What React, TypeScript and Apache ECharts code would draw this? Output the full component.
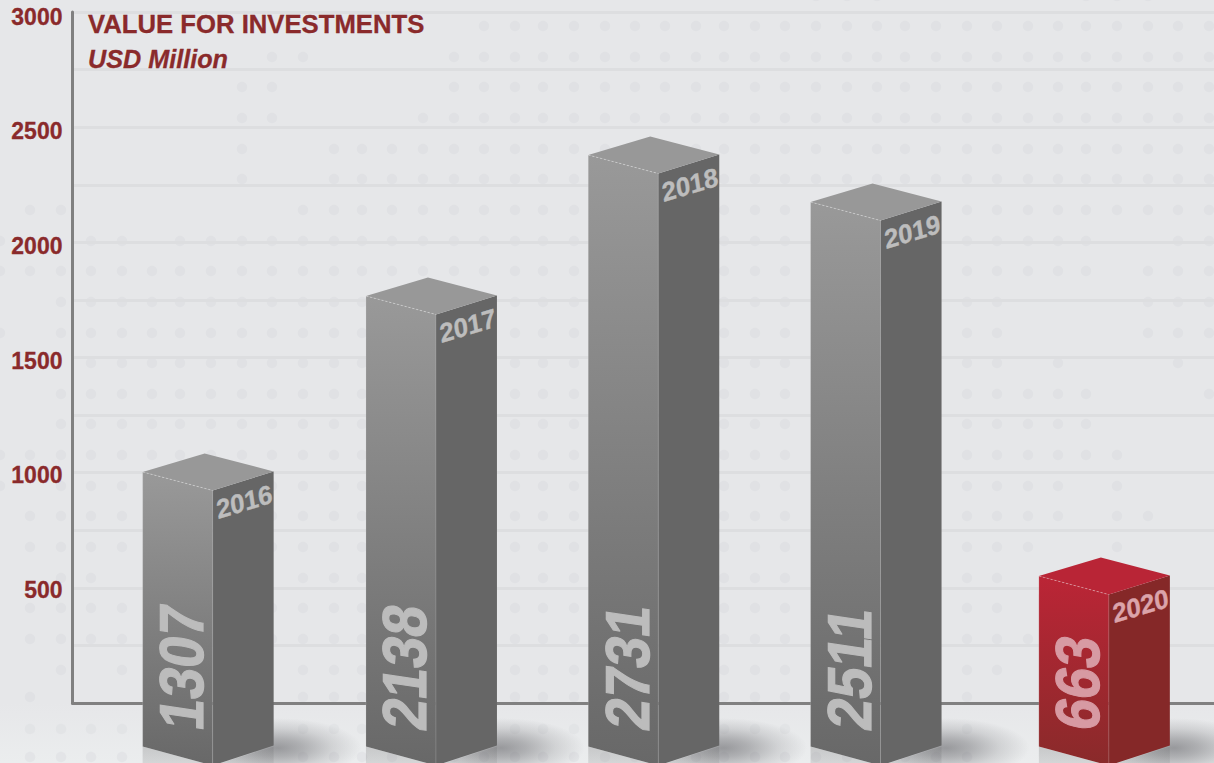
import React, { useEffect, useRef } from "react";
import * as echarts from "echarts";

const years = ["2016", "2017", "2018", "2019", "2020"];
const printedValues = ["1307", "2138", "2731", "2511", "663"];
// Bar heights at each bar's front-left top corner
const barHeights = [1003, 1767, 2379, 2175, 551];
const yTicks = [0, 500, 1000, 1500, 2000, 2500, 3000];

// Background dot screen: column and row positions, and the runs of columns shown on each row
const dotCols = [0, 30, 61, 91, 122, 152, 180, 211, 242, 272, 303, 334, 362, 392, 423, 454, 484, 515, 543, 574, 605, 635, 665, 696, 724, 755, 785, 816, 847, 877, 905, 936, 967, 997, 1028, 1058, 1086, 1117, 1148, 1178, 1209];
const dotRows = [-4, 26, 57, 87, 118, 149, 179, 210, 241, 271, 302, 333, 363, 394, 424, 455, 486, 516, 547, 578, 608, 639, 670, 697, 729, 757];
const dotRuns = [
  [[27, 29], [36, 38]],
  [[16, 40]],
  [[9, 10], [15, 40]],
  [[8, 9], [15, 40]],
  [[8, 9], [14, 40]],
  [[8, 8], [11, 40]],
  [[8, 8], [11, 40]],
  [[1, 2], [10, 40]],
  [[0, 0], [3, 4], [6, 36], [39, 40]],
  [[0, 36], [38, 40]],
  [[2, 33], [38, 40]],
  [[0, 0], [2, 33], [38, 40]],
  [[3, 33], [35, 35], [39, 39]],
  [[2, 36], [40, 40]],
  [[2, 36]],
  [[0, 37]],
  [[0, 0], [2, 35], [37, 37]],
  [[1, 35], [37, 38]],
  [[1, 34], [37, 37]],
  [[2, 3], [10, 33]],
  [[1, 33]],
  [[1, 34]],
  [[2, 2], [4, 4], [10, 33]],
  [[1, 1], [10, 32]],
  [[1, 4], [10, 32]],
  [[1, 4], [10, 32]],
];

const barShift = [21.5, 16.5, 10.5, 4.5, 4.5];
const FONT = '"Liberation Sans", Arial, sans-serif';
const MAROON = "#8a2a2b";

// Text under a general linear map: columns u (along the text) and v (down the glyphs).
function shearedText(x: number, y: number, u: number[], v: number[], style: any) {
  const [a, c] = u;
  const [b, d] = v;
  const E = (a + d) / 2, F = (a - d) / 2, G = (c + b) / 2, H = (c - b) / 2;
  const Q = Math.hypot(E, H), R = Math.hypot(F, G);
  const a1 = Math.atan2(G, F), a2 = Math.atan2(H, E);
  const theta = (a2 - a1) / 2, phi = (a2 + a1) / 2;
  return {
    type: "group",
    x,
    y,
    rotation: -phi,
    scaleX: Q + R,
    scaleY: Q - R,
    children: [
      {
        type: "text",
        rotation: -theta,
        style: { fontFamily: FONT, fontWeight: "bold", textAlign: "left", textVerticalAlign: "middle", ...style },
      },
    ],
  };
}

const poly = (points: number[][], style: any) => ({ type: "polygon", shape: { points }, style });
const vGrad = (c0: string, c1: string) => ({
  type: "linear", x: 0, y: 0, x2: 0, y2: 1,
  colorStops: [{ offset: 0, color: c0 }, { offset: 1, color: c1 }],
});

function renderBar(params: any, api: any) {
  const i = params.dataIndex;
  const p = api.coord([api.value(0), api.value(1)]);
  const red = i === years.length - 1;
  const L = p[0] - 65.5 + barShift[i];
  const T = p[1];
  const baseL = 746.5;
  const M = L + 70, Rt = L + 131;
  const front = red ? vGrad("#bb2536", "#892a2a") : vGrad("#999999", "#686868");
  const side = red ? "#852828" : "#666666";
  const top = red ? "#b92536" : "#989898";
  const edge = "rgba(255,255,255,0.2)";
  const numFill = red ? "#d79aa3" : "#bcbcbc";
  const yearFill = red ? "#dba3aa" : "#bdbdbd";
  return {
    type: "group",
    children: [
      {
        type: "ellipse",
        shape: { cx: Rt + 4, cy: 748, rx: 84, ry: 30 },
        style: {
          fill: {
            type: "radial", x: 0.5, y: 0.5, r: 0.5,
            colorStops: [
              { offset: 0, color: "rgba(70,70,75,0.5)" },
              { offset: 0.3, color: "rgba(70,70,75,0.36)" },
              { offset: 0.65, color: "rgba(70,70,75,0.15)" },
              { offset: 1, color: "rgba(70,70,75,0)" },
            ],
          },
        },
      },
      poly([[L, baseL], [M, baseL + 19], [M, baseL + 49], [L, baseL + 30]], { fill: vGrad("rgba(90,90,90,0.24)", "rgba(90,90,90,0)") }),
      poly([[M, baseL + 19], [Rt, baseL], [Rt, baseL + 30], [M, baseL + 49]], { fill: vGrad("rgba(90,90,90,0.18)", "rgba(90,90,90,0)") }),
      poly([[L, T], [M, T + 18.5], [M, baseL + 19], [L, baseL]], { fill: front }),
      poly([[M, T + 18.5], [Rt, T - 0.5], [Rt, baseL - 1], [M, baseL + 19]], { fill: side }),
      poly([[L, T], [L + 62, T - 18.5], [Rt, T - 0.5], [M, T + 18.5]], { fill: top }),
      { type: "line", shape: { x1: L, y1: T, x2: M, y2: T + 18.5 }, style: { stroke: "rgba(255,255,255,0.5)", lineWidth: 0.7, lineDash: [2, 2] } },
      { type: "line", shape: { x1: M, y1: T + 18.5, x2: M, y2: baseL + 19 }, style: { stroke: edge, lineWidth: 0.7 } },
      { type: "line", shape: { x1: L, y1: T, x2: L, y2: baseL }, style: { stroke: edge, lineWidth: 0.7 } },
      shearedText(L + 39, 729, [0, -0.9], [1, 0.15], { text: printedValues[i], fontSize: 62, fill: numFill, stroke: numFill, lineWidth: 1.2 }),
      shearedText(M + 4, T + 18 + 20, [0.96, -0.285], [0.15, 1], { text: years[i], fontSize: 26, fill: yearFill, stroke: yearFill, lineWidth: 0.4 }),
    ],
  };
}

function backgroundGraphics() {
  const els: any[] = [
    {
      type: "rect",
      z: -20,
      shape: { x: 0, y: 703, width: 1214, height: 60 },
      style: { fill: vGrad("#e6e7e9", "#ebedee") },
    },
  ];
  dotRuns.forEach((runs, r) => {
    runs.forEach(([from, to]) => {
      for (let c = from; c <= to; c++) {
        els.push({
          type: "ellipse",
          z: -10,
          silent: true,
          shape: { cx: dotCols[c], cy: dotRows[r], rx: 5.2, ry: 5.2 },
          style: { fill: "#e0e1e4", opacity: r >= 24 ? 0.7 : 1 },
        });
      }
    });
  });
  return els;
}

const tickStyle = (pad: number) => ({
  color: MAROON,
  fontFamily: FONT,
  fontWeight: "bold",
  fontSize: 23,
  textBorderColor: MAROON,
  textBorderWidth: 0.3,
  padding: [pad, 0, 0, 0],
});

export default function App() {
  const ref = useRef<HTMLDivElement>(null);
  useEffect(() => {
    document.body.style.margin = "0";
    document.body.style.overflow = "hidden";
    const chart = echarts.init(ref.current!, null, { renderer: "svg" });
    chart.setOption({
      animation: false,
      backgroundColor: "#e6e7e9",
      title: {
        text: "VALUE FOR INVESTMENTS",
        subtext: "USD Million",
        left: 88,
        top: 10,
        itemGap: 7,
        padding: 0,
        textStyle: { color: MAROON, fontFamily: FONT, fontWeight: "bold", fontSize: 25.7, lineHeight: 28, textBorderColor: MAROON, textBorderWidth: 0.3 },
        subtextStyle: { color: MAROON, fontFamily: FONT, fontWeight: "bold", fontStyle: "italic", fontSize: 25.2, lineHeight: 28, textBorderColor: MAROON, textBorderWidth: 0.3 },
      },
      graphic: backgroundGraphics(),
      grid: { left: 72.5, right: 0, top: 12, bottom: 60 },
      xAxis: {
        type: "category",
        data: years,
        axisLine: { show: true, lineStyle: { color: "#808080", width: 3 } },
        axisTick: { show: false },
        axisLabel: { show: false },
        splitLine: { show: false },
      },
      yAxis: {
        type: "value",
        min: 0,
        max: 3000,
        interval: 500,
        axisLine: { show: true, lineStyle: { color: "#808080", width: 3 } },
        axisTick: { show: false },
        minorTick: { show: false, splitNumber: 2 },
        splitLine: { show: true, lineStyle: { color: "#dddee0", width: 3 } },
        minorSplitLine: { show: true, lineStyle: { color: "#dddee0", width: 3 } },
        axisLabel: {
          margin: 10,
          formatter: (v: number) => {
            if (v === yTicks[0]) return "";
            const key = v === 3000 ? "t" : v >= 2000 ? "u" : v === 1500 ? "m" : "n";
            return `{${key}|${v}}`;
          },
          rich: { n: tickStyle(4), m: tickStyle(6), u: tickStyle(8), t: tickStyle(10) },
        },
      },
      series: [
        {
          type: "custom",
          coordinateSystem: "cartesian2d",
          clip: false,
          z: 5,
          encode: { x: 0, y: 1 },
          data: years.map((y, i) => [i, barHeights[i]]),
          renderItem: renderBar,
        },
      ],
    });
    return () => chart.dispose();
  }, []);
  return <div ref={ref} style={{ position: "absolute", left: 0, top: 0, width: 1214, height: 763 }} />;
}
